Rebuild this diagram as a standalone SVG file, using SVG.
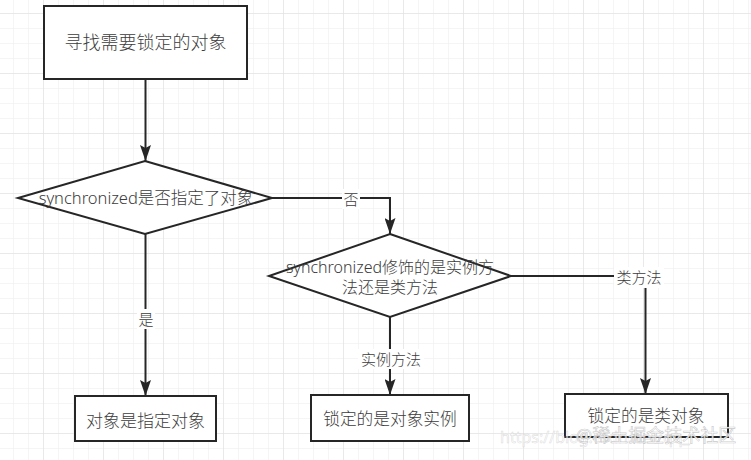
<svg xmlns="http://www.w3.org/2000/svg" width="751" height="460" viewBox="0 0 751 460">
  <style>
    .shape { fill: #ffffff; stroke: #262626; stroke-width: 2; }
    .edge { fill: none; stroke: #262626; stroke-width: 2; }
    .label { font-family: 'Noto Sans', 'Noto Sans CJK SC', sans-serif; font-weight: 300; fill: #3c3c3c; text-anchor: middle; }
    .elabel { font-family: 'Noto Sans', 'Noto Sans CJK SC', sans-serif; font-weight: 300; fill: #3c3c3c; text-anchor: middle; font-size: 15px; }
    .lbg { fill: #ffffff; }
    .wm { font-family: 'Noto Sans', 'Noto Sans CJK SC', sans-serif; }
  </style>
  <defs>
    <pattern id="gridMinor" patternUnits="userSpaceOnUse" x="13" y="13" width="15" height="15">
      <path d="M0,0 H15 M0,0 V15" fill="none" stroke="#ececec" stroke-width="1"/>
    </pattern>
    <pattern id="gridMajor" patternUnits="userSpaceOnUse" x="43" y="13" width="60" height="60">
      <path d="M0,0 H60 M0,0 V60" fill="none" stroke="#dedede" stroke-width="1"/>
    </pattern>
    <marker id="arrow" markerUnits="userSpaceOnUse" markerWidth="17" markerHeight="11" refX="16" refY="5.5" orient="auto" viewBox="0 0 17 11">
      <path d="M0,0 L16,5.5 L0,11 L3,5.5 Z" fill="#262626"/>
    </marker>
  </defs>

  <!-- background grid -->
  <rect width="751" height="460" fill="#ffffff"/>
  <rect width="751" height="460" fill="url(#gridMinor)"/>
  <rect width="751" height="460" fill="url(#gridMajor)"/>

  <!-- connectors -->
  <g id="connectors">
    <path class="edge" d="M145.5,79 V161" marker-end="url(#arrow)"/>
    <path class="edge" d="M272,198 H390 V234" marker-end="url(#arrow)"/>
    <path class="edge" d="M145.5,234 V396" marker-end="url(#arrow)"/>
    <path class="edge" d="M390,317 V395" marker-end="url(#arrow)"/>
    <path class="edge" d="M511,276 H645.5 V394" marker-end="url(#arrow)"/>

    <rect class="lbg" x="342" y="189" width="18" height="20"/>
    <text class="elabel" x="351" y="204.5">否</text>

    <rect class="lbg" x="137" y="309" width="18" height="20"/>
    <text class="elabel" x="146" y="324.5">是</text>

    <rect class="lbg" x="358" y="349" width="66" height="20"/>
    <text class="elabel" x="391" y="364.5">实例方法</text>

    <rect class="lbg" x="614" y="267" width="50" height="21"/>
    <text class="elabel" x="639" y="283">类方法</text>
  </g>

  <!-- nodes -->
  <g id="start">
    <rect class="shape" x="44" y="6" width="203" height="73"/>
    <text class="label" x="145.5" y="49" font-size="18">寻找需要锁定的对象</text>
  </g>

  <g id="decision-target">
    <polygon class="shape" points="145,161 272,198 145,234 18,198"/>
    <text class="label" x="146" y="204" font-size="16.5">synchronized是否指定了对象</text>
  </g>

  <g id="decision-method">
    <polygon class="shape" points="390,234 511,276 390,317 269,276"/>
    <text class="label" x="390" y="272.5" font-size="16">synchronized修饰的是实例方</text>
    <text class="label" x="390" y="292.5" font-size="16">法还是类方法</text>
  </g>

  <g id="result-specified">
    <rect class="shape" x="75" y="396" width="141" height="45"/>
    <text class="label" x="145.5" y="427" font-size="17">对象是指定对象</text>
  </g>

  <g id="result-instance">
    <rect class="shape" x="311" y="395" width="158" height="46"/>
    <text class="label" x="390" y="425" font-size="16.7">锁定的是对象实例</text>
  </g>

  <g id="result-class">
    <rect class="shape" x="565" y="394" width="163" height="43"/>
    <text class="label" x="646" y="421.5" font-size="16.7">锁定的是类对象</text>
  </g>

  <!-- watermark -->
  <g id="watermark">
    <text class="wm" x="500" y="443" font-size="16" fill="#ffffff" fill-opacity="0.6" stroke="#d0d0d0" stroke-width="0.5" stroke-opacity="0.8">https://blog.csdn.net/qq_</text>
    <text class="wm" x="576" y="442" font-size="18" fill="#ffffff" fill-opacity="0.9" stroke="#9a9a9a" stroke-width="0.6" stroke-opacity="0.55">@稀土掘金技术社区</text>
  </g>
</svg>
